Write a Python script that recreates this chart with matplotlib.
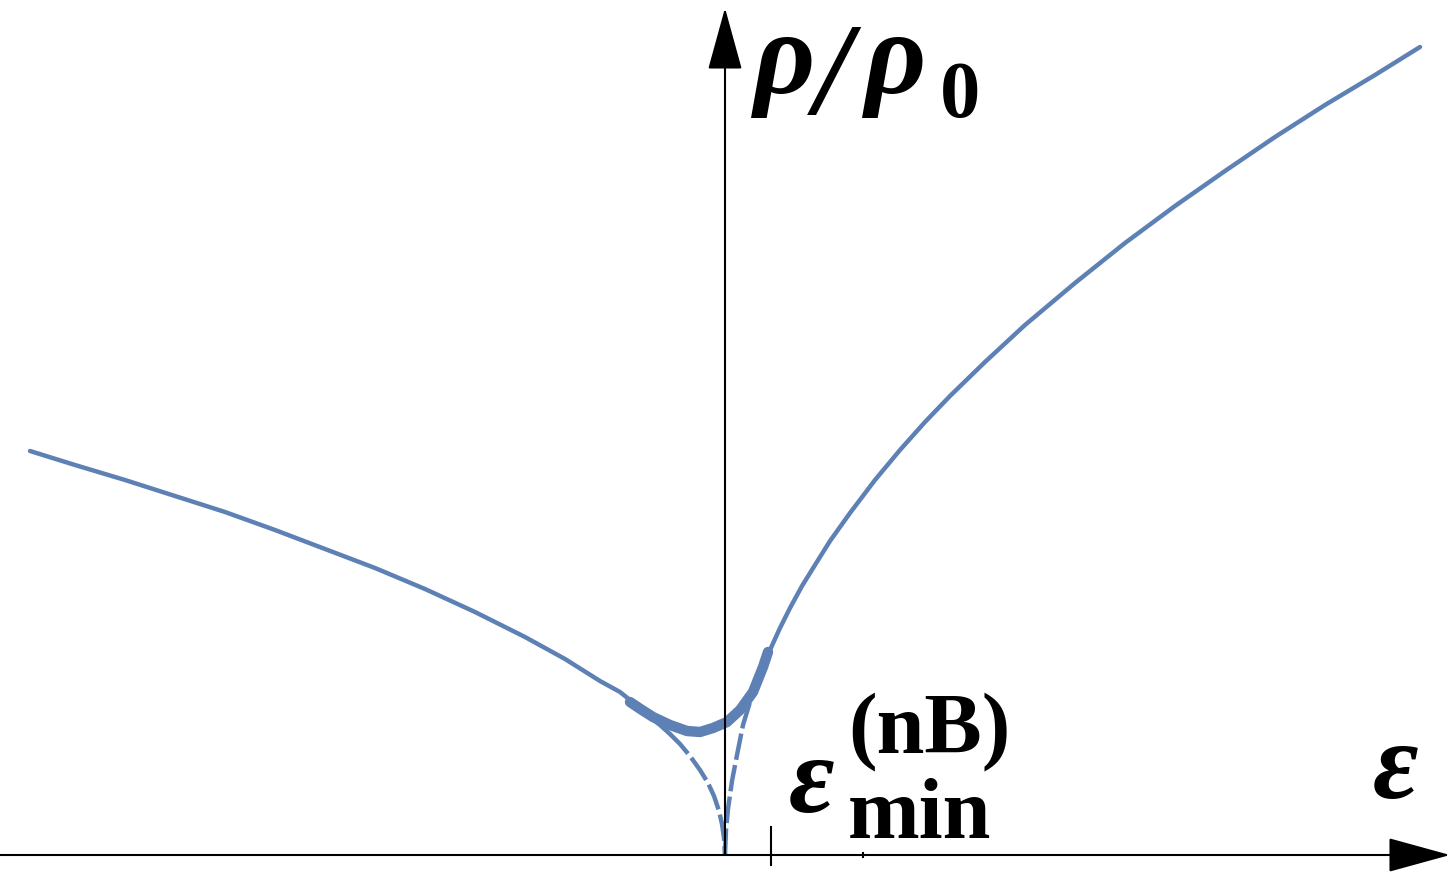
import matplotlib

matplotlib.use("Agg")
import matplotlib.pyplot as plt

BLUE = "#5e81b5"
SERIF = "Liberation Serif"

# thin curve rho/rho0 vs eps (units: 1 = 100 px of the reference)
left_solid_x = [-6.95, -6.5, -6.0, -5.5, -5.0, -4.5, -4.0, -3.5, -3.0, -2.5, -2.0,
                -1.6, -1.25, -1.05, -0.95, -0.8, -0.65, -0.55]
left_solid_y = [4.04, 3.90, 3.75, 3.59, 3.43, 3.25, 3.06, 2.87, 2.66, 2.43, 2.18,
                1.96, 1.74, 1.63, 1.55, 1.42, 1.30, 1.21]
left_dash_x = [-0.55, -0.45, -0.35, -0.25, -0.17, -0.11, -0.06, -0.03, -0.01, 0.0]
left_dash_y = [1.21, 1.11, 0.99, 0.85, 0.72, 0.59, 0.44, 0.31, 0.17, 0.0]
right_dash_x = [0.0, 0.01, 0.03, 0.07, 0.12, 0.18, 0.25, 0.32]
right_dash_y = [0.0, 0.25, 0.46, 0.74, 1.00, 1.30, 1.53, 1.73]
right_solid_x = [0.32, 0.38, 0.45, 0.55, 0.65, 0.77, 0.9, 1.05, 1.25, 1.5, 1.75, 2.0,
                 2.25, 2.6, 3.0, 3.5, 4.0, 4.5, 5.0, 5.5, 6.0, 6.5, 6.95]
right_solid_y = [1.73, 1.89, 2.05, 2.27, 2.47, 2.69, 2.90, 3.14, 3.42, 3.75, 4.05, 4.33,
                 4.59, 4.93, 5.30, 5.72, 6.12, 6.49, 6.84, 7.18, 7.50, 7.80, 8.08]

# thick curve (regularised minimum)
thick_x = [-0.95, -0.83, -0.72, -0.55, -0.38, -0.25, -0.12, 0.02, 0.15, 0.28, 0.38, 0.43]
thick_y = [1.53, 1.45, 1.38, 1.30, 1.24, 1.23, 1.27, 1.33, 1.45, 1.63, 1.88, 2.03]

eps_min = 0.46
minor_tick = 1.38

fig = plt.figure(figsize=(14.54, 8.75), dpi=100)
ax = fig.add_axes([0, 0, 1, 1])
ax.set_xlim(-7.25, 7.29)
ax.set_ylim(-0.2, 8.55)
ax.axis("off")

ax.plot(left_solid_x, left_solid_y, color=BLUE, lw=3.2, solid_capstyle="round")
ax.plot(right_solid_x, right_solid_y, color=BLUE, lw=3.2, solid_capstyle="round")
ax.plot(left_dash_x, left_dash_y, color=BLUE, lw=3.2, linestyle=(0, (6, 1.2)))
ax.plot(right_dash_x, right_dash_y, color=BLUE, lw=3.2, linestyle=(0, (6, 1.2)))
ax.plot(thick_x, thick_y, color=BLUE, lw=7.5, solid_capstyle="round")

# axes with arrows
arrow = dict(arrowstyle="-|>,head_length=2.0,head_width=0.55", color="black",
             lw=1.5, shrinkA=0, shrinkB=0, mutation_scale=20)
ax.annotate("", xy=(7.25, 0), xytext=(-7.3, 0), arrowprops=arrow)
ax.annotate("", xy=(0, 8.47), xytext=(0, 0), arrowprops=arrow)
ax.plot([eps_min, eps_min], [-0.10, 0.28], color="black", lw=1.5)
ax.plot([minor_tick, minor_tick], [-0.02, 0.02], color="black", lw=1.5)

bi = dict(family=SERIF, fontweight="bold", fontstyle="italic", va="baseline", ha="left")
b = dict(family=SERIF, fontweight="bold", va="baseline", ha="left")

ax.text(0.29, 7.62, "ρ", fontsize=86, **bi)
ax.text(0.90, 7.41, "/", fontsize=94, **bi)
ax.text(1.40, 7.62, "ρ", fontsize=86, **bi)
ax.text(2.15, 7.38, "0", fontsize=58, **b)

ax.text(0.64, 0.43, "ε", fontsize=80, **bi)
ax.text(1.23, 0.17, "min", fontsize=62, **b)
ax.text(1.23, 1.03, "(nB)", fontsize=62, **b)

ax.text(6.48, 0.57, "ε", fontsize=80, **bi)

fig.savefig("out.png", dpi=100)
